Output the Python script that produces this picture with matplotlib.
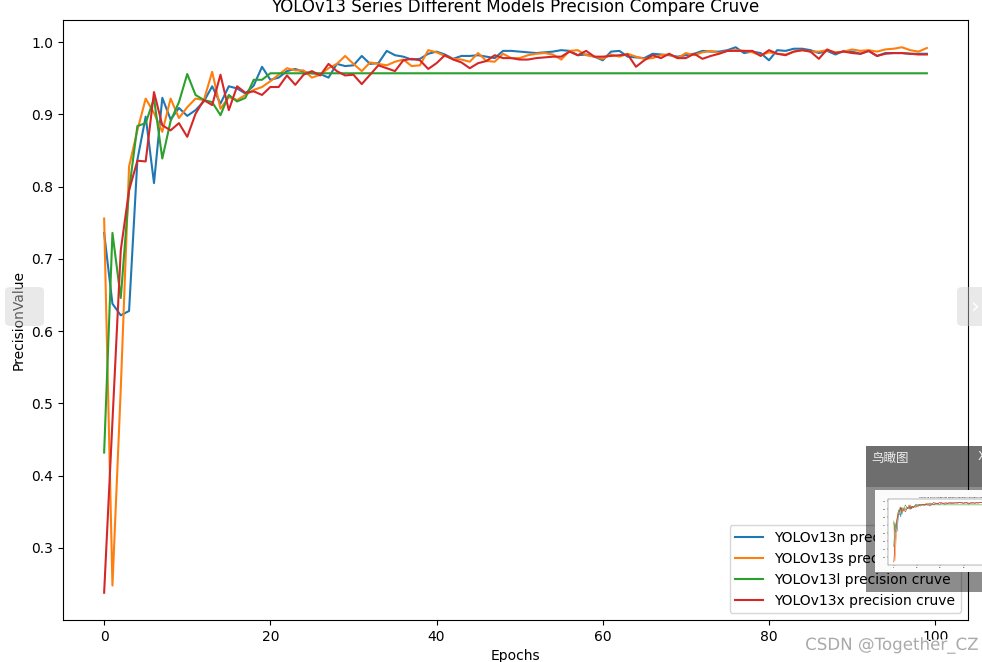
import matplotlib.pyplot as plt
import matplotlib.patheffects as pe
from matplotlib.patches import Rectangle, FancyBboxPatch

# ----------------------------
# Canvas (pixels)
# ----------------------------
W, H = 982, 662

# ----------------------------
# Data
# ----------------------------
epochs = list(range(100))

prec_n = [0.736, 0.638, 0.622, 0.628, 0.837, 0.897, 0.805, 0.923, 0.893, 0.909,
          0.898, 0.906, 0.918, 0.939, 0.915, 0.939, 0.936, 0.929, 0.940, 0.966,
          0.948, 0.951, 0.960, 0.963, 0.959, 0.957, 0.956, 0.951, 0.970, 0.967,
          0.968, 0.981, 0.970, 0.971, 0.988, 0.982, 0.980, 0.976, 0.977, 0.984,
          0.987, 0.983, 0.977, 0.981, 0.981, 0.982, 0.980, 0.978, 0.988, 0.988,
          0.987, 0.986, 0.985, 0.986, 0.987, 0.989, 0.988, 0.982, 0.983, 0.980,
          0.975, 0.987, 0.988, 0.980, 0.979, 0.978, 0.984, 0.983, 0.982, 0.980,
          0.982, 0.984, 0.988, 0.987, 0.987, 0.989, 0.993, 0.985, 0.987, 0.985,
          0.975, 0.989, 0.988, 0.991, 0.991, 0.989, 0.985, 0.988, 0.983, 0.988,
          0.987, 0.984, 0.988, 0.981, 0.985, 0.985, 0.985, 0.984, 0.984, 0.984]

prec_s = [0.756, 0.248, 0.520, 0.828, 0.878, 0.922, 0.902, 0.876, 0.922, 0.895,
          0.910, 0.922, 0.920, 0.959, 0.908, 0.924, 0.920, 0.927, 0.934, 0.938,
          0.946, 0.955, 0.964, 0.961, 0.961, 0.951, 0.955, 0.964, 0.970, 0.981,
          0.970, 0.960, 0.972, 0.970, 0.968, 0.973, 0.976, 0.967, 0.968, 0.989,
          0.986, 0.981, 0.977, 0.976, 0.973, 0.985, 0.974, 0.973, 0.984, 0.978,
          0.978, 0.982, 0.984, 0.985, 0.983, 0.976, 0.988, 0.989, 0.982, 0.980,
          0.977, 0.983, 0.980, 0.984, 0.980, 0.977, 0.978, 0.982, 0.983, 0.978,
          0.985, 0.982, 0.986, 0.988, 0.985, 0.988, 0.989, 0.988, 0.986, 0.982,
          0.986, 0.984, 0.983, 0.987, 0.989, 0.987, 0.987, 0.989, 0.986, 0.987,
          0.990, 0.988, 0.989, 0.987, 0.990, 0.991, 0.993, 0.989, 0.987, 0.992]

prec_l = [0.432, 0.736, 0.646, 0.795, 0.884, 0.888, 0.922, 0.839, 0.891, 0.917,
          0.956, 0.927, 0.920, 0.917, 0.899, 0.927, 0.918, 0.923, 0.948, 0.948,
          0.957] + [0.957] * 79

prec_x = [0.238, 0.475, 0.712, 0.795, 0.836, 0.835, 0.931, 0.885, 0.878, 0.888,
          0.869, 0.901, 0.920, 0.913, 0.955, 0.906, 0.939, 0.930, 0.932, 0.927,
          0.938, 0.938, 0.954, 0.941, 0.955, 0.960, 0.954, 0.970, 0.960, 0.954,
          0.955, 0.942, 0.955, 0.968, 0.964, 0.960, 0.975, 0.977, 0.975, 0.963,
          0.971, 0.982, 0.976, 0.972, 0.964, 0.971, 0.974, 0.982, 0.978, 0.978,
          0.976, 0.976, 0.978, 0.979, 0.980, 0.980, 0.987, 0.982, 0.988, 0.980,
          0.980, 0.981, 0.982, 0.983, 0.966, 0.975, 0.982, 0.978, 0.984, 0.978,
          0.978, 0.984, 0.977, 0.981, 0.984, 0.988, 0.988, 0.988, 0.988, 0.981,
          0.989, 0.984, 0.982, 0.987, 0.989, 0.987, 0.977, 0.990, 0.985, 0.987,
          0.985, 0.984, 0.988, 0.981, 0.984, 0.985, 0.985, 0.984, 0.983, 0.983]

series = [prec_n, prec_s, prec_l, prec_x]
labels = ["YOLOv13n precision cruve", "YOLOv13s precision cruve",
          "YOLOv13l precision cruve", "YOLOv13x precision cruve"]
title = "YOLOv13 Series Different Models Precision Compare Cruve"


def fig_box(x0, y0, x1, y1):
    # pixel box (top-left origin) -> figure fraction [left, bottom, w, h]
    return [x0 / W, 1 - y1 / H, (x1 - x0) / W, (y1 - y0) / H]


fig = plt.figure(figsize=(W / 100, H / 100), dpi=100)

# Main chart
ax = fig.add_axes(fig_box(63, 20, 968, 620))
for vals, lab in zip(series, labels):
    ax.plot(epochs, vals, label=lab)
ax.set_title(title)
ax.set_xlabel("Epochs")
ax.set_ylabel("PrecisionValue")
ax.legend(loc="lower right")

# ----------------------------
# Screenshot overlays
# ----------------------------
# side navigation buttons
for (x0, x1, chev) in [(5, 44, "\u2039"), (957, 995, "\u203a")]:
    b = fig_box(x0, 287, x1, 326)
    fig.add_artist(FancyBboxPatch((b[0], b[1]), b[2], b[3],
                                  boxstyle="round,pad=0,rounding_size=0.006",
                                  transform=fig.transFigure,
                                  facecolor="#cfcfcf", edgecolor="none",
                                  alpha=0.45, zorder=3))
fig.text(975 / W, 1 - 306 / H, "\u203a", color="white", fontsize=16,
         ha="center", va="center", zorder=4)

# bird's-eye popup
b = fig_box(866, 446, 990, 487)
fig.add_artist(Rectangle((b[0], b[1]), b[2], b[3], transform=fig.transFigure,
                         facecolor="black", edgecolor="none", alpha=0.57, zorder=3))
b = fig_box(866, 487, 990, 592)
fig.add_artist(Rectangle((b[0], b[1]), b[2], b[3], transform=fig.transFigure,
                         facecolor="black", edgecolor="none", alpha=0.45, zorder=3))
fig.text(871 / W, 1 - 458 / H, "鸟瞰图", color="#eeeeee", fontsize=9,
         va="center", family=["Noto Sans CJK SC", "DejaVu Sans"], zorder=4)
fig.text(978 / W, 1 - 457 / H, "X", color="#eeeeee", fontsize=9,
         va="center", zorder=4)

# thumbnail of the chart
thumb = fig.add_axes(fig_box(875, 490, 1020, 572))
thumb.set_zorder(5)
thumb.set_facecolor("#fbfbfb")
thumb.set_xticks([])
thumb.set_yticks([])
for s in thumb.spines.values():
    s.set_visible(False)

mini = fig.add_axes(fig_box(888, 499, 1015, 565))
mini.set_zorder(6)
for vals in series:
    mini.plot(epochs, vals, linewidth=0.4)
mini.set_title(title, fontsize=1.6, pad=1)
mini.tick_params(labelsize=1.4, length=0.8, width=0.2, pad=0.5)
for s in mini.spines.values():
    s.set_linewidth(0.2)
mini.legend(labels, loc="lower right", fontsize=1.3, handlelength=1.5,
            frameon=False)

# watermark
fig.text(978 / W, 1 - 645 / H, "CSDN @Together_CZ", color="#a9a9a9",
         fontsize=12, ha="right", va="center", zorder=4,
         path_effects=[pe.withStroke(linewidth=2, foreground="white")])

fig.savefig("out.png", dpi=100)
